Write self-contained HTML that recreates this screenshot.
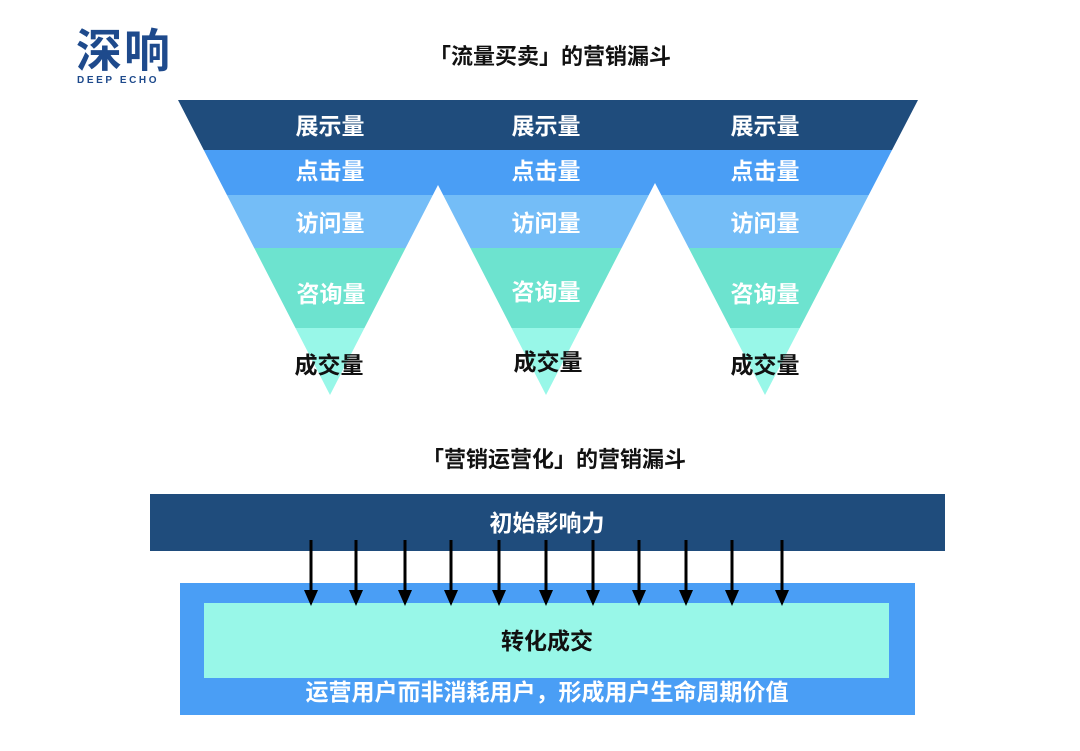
<!DOCTYPE html>
<html><head><meta charset="utf-8"><style>
body{margin:0;background:#fff;}
svg text{font-family:"Liberation Sans","Noto Sans CJK SC",sans-serif;font-weight:bold;}
</style></head><body>
<svg width="1080" height="746" viewBox="0 0 1080 746" xmlns="http://www.w3.org/2000/svg">
<defs>
<clipPath id="f"><polygon points="178,100 918,100 765,395 655,183 546,395 438,185 330,395"/></clipPath>
</defs>
<text x="76" y="67" font-size="46" fill="#1e4a8c" letter-spacing="2">深响</text>
<text x="77" y="83" font-size="10" fill="#1e4a8c" letter-spacing="2.6">DEEP ECHO</text>
<text x="550" y="64" font-size="22" text-anchor="middle" fill="#111">「流量买卖」的营销漏斗</text>
<g clip-path="url(#f)">
<rect x="170" y="100" width="760" height="50" fill="#1f4c7c"/>
<rect x="170" y="150" width="760" height="45" fill="#4a9ef5"/>
<rect x="170" y="195" width="760" height="53" fill="#74bdf7"/>
<rect x="170" y="248" width="760" height="80" fill="#6de3cf"/>
<rect x="170" y="328" width="760" height="70" fill="#98f7e8"/>
</g>
<g font-size="23" text-anchor="middle" fill="#fff">
<text x="330" y="134">展示量</text><text x="546" y="134">展示量</text><text x="765" y="134">展示量</text>
<text x="330" y="179">点击量</text><text x="546" y="179">点击量</text><text x="765" y="179">点击量</text>
<text x="330" y="231">访问量</text><text x="546" y="231">访问量</text><text x="765" y="231">访问量</text>
<text x="331" y="302">咨询量</text><text x="546" y="300">咨询量</text><text x="765" y="302">咨询量</text>
</g>
<g font-size="23" text-anchor="middle" fill="#111">
<text x="329" y="373">成交量</text><text x="548" y="370">成交量</text><text x="765" y="373">成交量</text>
</g>
<text x="554" y="467" font-size="22" text-anchor="middle" fill="#111">「营销运营化」的营销漏斗</text>
<rect x="150" y="494" width="795" height="57" fill="#1f4c7c"/>
<text x="547" y="531" font-size="23" text-anchor="middle" fill="#fff">初始影响力</text>
<rect x="180" y="583" width="735" height="132" fill="#4a9ef5"/>
<rect x="204" y="603" width="685" height="75" fill="#98f7e8"/>
<text x="547" y="649" font-size="23" text-anchor="middle" fill="#111">转化成交</text>
<text x="547" y="700" font-size="23" text-anchor="middle" fill="#fff">运营用户而非消耗用户，形成用户生命周期价值</text>
<g fill="#000">
<path d="M309.5,540h3v50h-3z M304,590h14l-7,16z"/>
<path d="M354.5,540h3v50h-3z M349,590h14l-7,16z"/>
<path d="M403.5,540h3v50h-3z M398,590h14l-7,16z"/>
<path d="M449.5,540h3v50h-3z M444,590h14l-7,16z"/>
<path d="M497.5,540h3v50h-3z M492,590h14l-7,16z"/>
<path d="M544.5,540h3v50h-3z M539,590h14l-7,16z"/>
<path d="M591.5,540h3v50h-3z M586,590h14l-7,16z"/>
<path d="M637.5,540h3v50h-3z M632,590h14l-7,16z"/>
<path d="M684.5,540h3v50h-3z M679,590h14l-7,16z"/>
<path d="M730.5,540h3v50h-3z M725,590h14l-7,16z"/>
<path d="M780.5,540h3v50h-3z M775,590h14l-7,16z"/>
</g>
</svg>
</body></html>
